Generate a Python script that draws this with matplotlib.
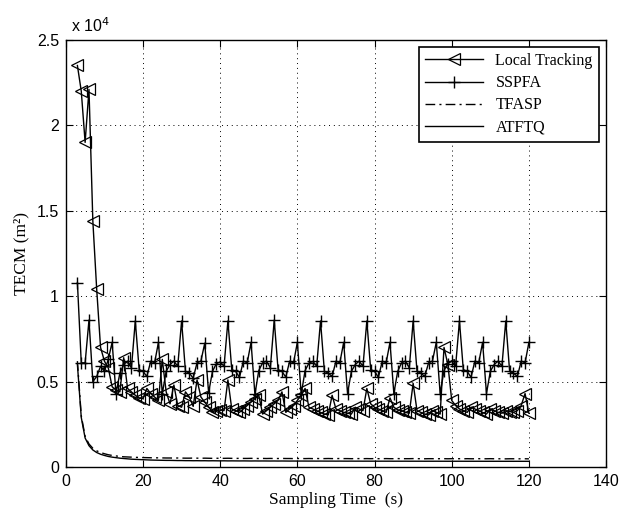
import numpy as np
import matplotlib
matplotlib.use('Agg')
import matplotlib.pyplot as plt
from matplotlib.ticker import FuncFormatter

# sampling instants (s)
t = list(range(3, 121))

# TECM values (m^2)
local_tracking = [
    23500, 22000, 19000, 22100, 14400, 10400, 7000, 6200, 5800, 4700,
    4500, 4400, 6400, 4600, 4400, 4200, 4050, 4000,
    4600, 4300, 4100, 3900, 6300, 4400, 3700, 4800, 3600, 3500,
    4400, 4100, 3550, 5100, 4100, 3800, 3500, 3250, 3300, 3350,
    3300, 5100, 3400, 3300, 3200, 3400, 3600, 3800, 4000, 4200,
    3100, 3300, 3500, 3700, 3900, 4400, 3200, 3400, 3600, 3900,
    4200, 4600, 3500, 3400, 3300, 3200, 3100, 3050, 4200, 3400,
    3300, 3200, 3150, 3100, 3500, 3400, 3300, 4600, 3700, 3500,
    3400, 3300, 3200, 4050, 3500, 3350, 3300, 3200, 3150, 4900,
    3300, 3200, 3100, 3050, 3300, 3200, 3100, 7000, 6000, 3900,
    3600, 3400, 3300, 3200, 3500, 3400, 3300, 3200, 3100, 3400,
    3300, 3200, 3150, 3300, 3250, 3200, 3300, 3600, 4300, 3150,
]

sspfa = [
    10800, 6100, 6100, 8600, 5000, 5300, 5900, 5600, 6300, 7300, 4300, 5500, 6000, 6200, 5800,
    8550, 5700, 5600, 5300, 6200, 6100, 7300, 4300, 5600, 6000, 6200, 5900,
    8550, 5600, 5500, 5200, 6100, 6200, 7250, 4350, 5600, 6050, 6150, 5900,
    8550, 5700, 5600, 5250, 6200, 6100, 7300, 4250, 5650, 6100, 6200, 5800,
    8600, 5700, 5600, 5260, 6200, 6100, 7300, 4260, 5650, 6080, 6180, 5900,
    8550, 5600, 5500, 5300, 6200, 6100, 7300, 4300, 5600, 6000, 6200, 5900,
    8550, 5700, 5600, 5250, 6200, 6100, 7300, 4300, 5600, 6100, 6200, 5800,
    8550, 5600, 5500, 5300, 6100, 6200, 7300, 4300, 5650, 6050, 6200, 5900,
    8550, 5700, 5600, 5250, 6200, 6100, 7300, 4300, 5600, 6000, 6200, 5900,
    8550, 5600, 5500, 5300, 6200, 6100, 7300,
]

tfasp = [
    6200, 3000, 1800, 1350, 1100, 950, 850, 780, 720, 680,
    650, 620, 600, 590, 580, 570, 560, 555, 550, 545,
    540, 540, 535, 530, 530, 525, 530, 525, 520, 520,
    525, 520, 515, 520, 515, 510, 515, 510, 510, 515,
    510, 505, 510, 505, 505, 510, 505, 500, 505, 500,
    505, 500, 500, 505, 500, 500, 495, 500, 500, 495,
    500, 495, 500, 495, 495, 500, 495, 495, 500, 495,
    495, 490, 495, 495, 490, 495, 490, 495, 490, 490,
    495, 490, 490, 495, 490, 490, 490, 495, 490, 490,
    485, 490, 490, 485, 490, 490, 485, 490, 485, 490,
    485, 490, 485, 485, 490, 485, 485, 490, 485, 485,
    485, 480, 485, 485, 480, 485, 485, 480,
]

atftq = [
    6000, 2900, 1700, 1250, 1000, 850, 750, 680, 620, 580,
    550, 520, 500, 480, 460, 450, 440, 430, 420, 410,
    405, 400, 395, 390, 390, 385, 380, 380, 375, 375,
    370, 372, 368, 370, 365, 368, 365, 362, 365, 360,
    362, 360, 358, 360, 358, 355, 358, 355, 356, 355,
    353, 355, 352, 354, 352, 350, 352, 350, 351, 350,
    349, 350, 348, 350, 348, 347, 348, 346, 348, 346,
    345, 347, 345, 346, 344, 345, 344, 345, 343, 344,
    343, 344, 342, 343, 342, 343, 341, 342, 341, 342,
    340, 341, 340, 341, 340, 340, 339, 340, 339, 340,
    339, 338, 339, 338, 339, 338, 337, 338, 337, 338,
    337, 336, 337, 336, 337, 336, 336, 335,
]

serif = ['Liberation Serif', 'DejaVu Serif']
plt.rcParams['font.family'] = ['Liberation Sans', 'DejaVu Sans']
plt.rcParams['font.size'] = 11.5

fig = plt.figure(figsize=(6.21, 5.11), dpi=100)
ax = fig.add_axes([0.106, 0.086, 0.870, 0.836])

ax.plot(t, local_tracking, color='black', lw=1.0, marker='<', ms=8.5,
        mfc='none', mec='black', mew=0.9, label='Local Tracking')
ax.plot(t, sspfa, color='black', lw=1.0, marker='+', ms=8, mew=1.0,
        label='SSPFA')
ax.plot(t, tfasp, color='black', lw=1.0, ls=(0, (7, 3, 1.5, 3)), label='TFASP')
ax.plot(t, atftq, color='black', lw=1.0, label='ATFTQ')

ax.set_xlim(0, 140)
ax.set_ylim(0, 25000)
ax.set_xticks(np.arange(0, 141, 20))
ax.set_yticks(np.arange(0, 25001, 5000))
ax.yaxis.set_major_formatter(FuncFormatter(lambda v, p: '%g' % (v / 1e4)))
ax.tick_params(direction='in', top=True, right=True, length=5, width=0.8,
               labelsize=11.5, pad=5)
ax.grid(True, color='black', ls=(0, (1, 4)), lw=0.7)
for s in ax.spines.values():
    s.set_linewidth(1.0)

ax.text(0.01, 1.012, 'x 10$^{4}$', transform=ax.transAxes, fontsize=11.5,
        ha='left', va='bottom')

ax.set_xlabel('Sampling Time  (s)', family=serif, fontsize=12.5, labelpad=2)
ax.set_ylabel('TECM (m²)', family=serif, fontsize=12.5, labelpad=5)

leg = ax.legend(loc='upper right', prop={'family': serif, 'size': 11.5},
                handlelength=3.6, fancybox=False, framealpha=1,
                edgecolor='black', borderpad=0.4, labelspacing=0.38,
                handletextpad=0.8, borderaxespad=0,
                bbox_to_anchor=(0.987, 0.984))
leg.get_frame().set_linewidth(1.2)

fig.savefig('out.png', dpi=100)
